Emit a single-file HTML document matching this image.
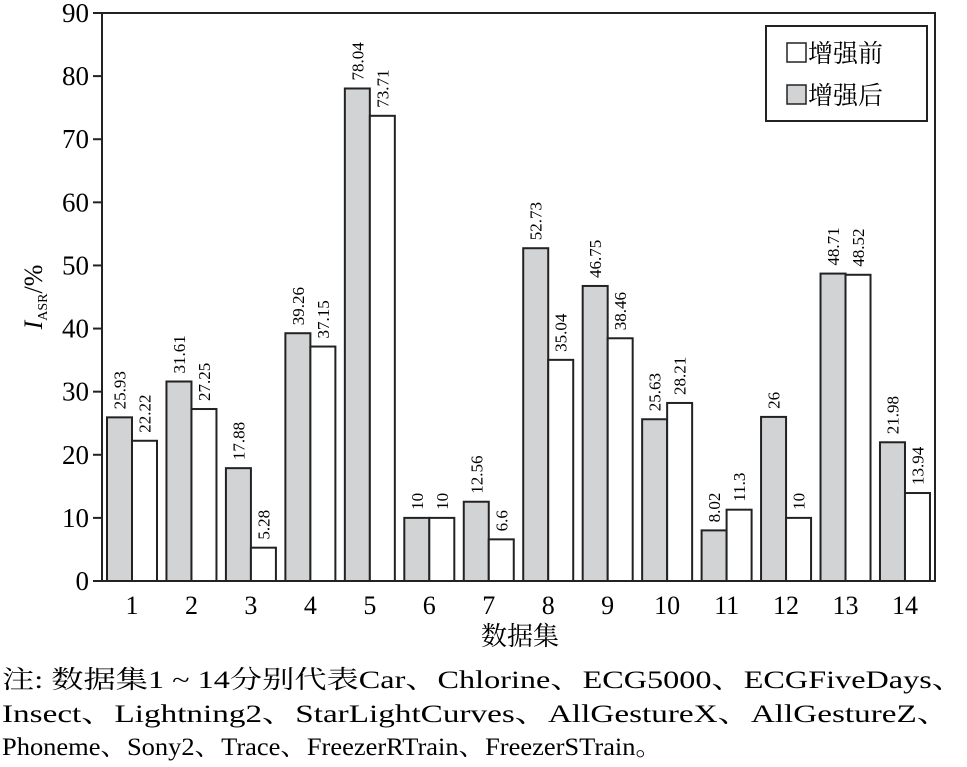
<!DOCTYPE html>
<html><head><meta charset="utf-8"><style>
body{margin:0;background:#fff;}
svg{display:block;font-family:"Liberation Serif","Noto Serif CJK SC",serif;}
</style></head><body>
<svg id="chart" width="967" height="767" viewBox="0 0 967 767" xmlns="http://www.w3.org/2000/svg">
<g id="bars"></g>
<g id="axes"></g>
<g>
<rect x="766" y="26" width="161" height="95" fill="#fff" stroke="#222" stroke-width="2"/>
<rect x="787" y="43" width="19" height="19" fill="#fff" stroke="#222" stroke-width="1.5"/>
<text x="808" y="62" font-size="25" font-family="Noto Serif CJK SC, serif">增强前</text>
<rect x="787" y="85" width="19" height="19" fill="#d1d3d4" stroke="#222" stroke-width="1.5"/>
<text x="808" y="104" font-size="25" font-family="Noto Serif CJK SC, serif">增强后</text>
</g>
<text transform="translate(42,297) rotate(-90)" text-anchor="middle" font-size="26"><tspan font-style="italic">I</tspan><tspan font-size="14" dy="5">ASR</tspan><tspan dy="-5">/%</tspan></text>
<text x="520" y="645" text-anchor="middle" font-size="26">数据集</text>
<text x="2" y="688" font-size="25" textLength="962" lengthAdjust="spacingAndGlyphs">注: 数据集1 ~ 14分别代表Car、Chlorine、ECG5000、ECGFiveDays、</text>
<text x="2" y="722" font-size="25" textLength="948" lengthAdjust="spacingAndGlyphs">Insect、Lightning2、StarLightCurves、AllGestureX、AllGestureZ、</text>
<text x="2" y="755" font-size="25" textLength="660" lengthAdjust="spacingAndGlyphs">Phoneme、Sony2、Trace、FreezerRTrain、FreezerSTrain。</text>
</svg>
<script>
const categories=["1","2","3","4","5","6","7","8","9","10","11","12","13","14"];
const afterValues=[25.93,31.61,17.88,39.26,78.04,10,12.56,52.73,46.75,25.63,8.02,26,48.71,21.98];
const beforeValues=[22.22,27.25,5.28,37.15,73.71,10,6.6,35.04,38.46,28.21,11.3,10,48.52,13.94];
const afterLabels=["25.93","31.61","17.88","39.26","78.04","10","12.56","52.73","46.75","25.63","8.02","26","48.71","21.98"];
const beforeLabels=["22.22","27.25","5.28","37.15","73.71","10","6.6","35.04","38.46","28.21","11.3","10","48.52","13.94"];
const yTicks=[0,10,20,30,40,50,60,70,80,90];
const NS="http://www.w3.org/2000/svg";
const X0=102,X1=935,Y0=581,Y1=13,YMAX=90,BW=25;
function y(v){return Y0-(v/YMAX)*(Y0-Y1);}
function xc(i){return 132+i*59.46;}
function mk(t,a,p){const e=document.createElementNS(NS,t);for(const k in a)e.setAttribute(k,a[k]);p.appendChild(e);return e;}
const bars=document.getElementById('bars'),axes=document.getElementById('axes');
categories.forEach((c,i)=>{
  const cx=xc(i);
  const a=mk('rect',{x:cx-BW,y:y(afterValues[i]),width:BW,height:Y0-y(afterValues[i]),fill:'#d1d3d4',stroke:'#222','stroke-width':2},bars);
  
  
  const b=mk('rect',{x:cx,y:y(beforeValues[i]),width:BW,height:Y0-y(beforeValues[i]),fill:'#fff',stroke:'#222','stroke-width':2},bars);
  
  
  [[afterLabels[i],afterValues[i],cx-BW/2],[beforeLabels[i],beforeValues[i],cx+BW/2]].forEach(([l,v,x],k)=>{
    const t=mk('text',{transform:`translate(${x+6},${y(v)-8}) rotate(-90)`,'font-size':17},bars);
    t.textContent=l;
    
    
  });
  const tl=mk('text',{x:cx,y:614,'text-anchor':'middle','font-size':26},axes);
  tl.textContent=c;
  
  
});
const fr=mk('rect',{x:X0,y:Y1,width:X1-X0,height:Y0-Y1,fill:'none',stroke:'#222','stroke-width':2},axes);


yTicks.forEach(v=>{
  const ln=mk('line',{x1:X0-9,x2:X0,y1:y(v),y2:y(v),stroke:'#222','stroke-width':2},axes);
  
  
  const t=mk('text',{x:X0-13,y:y(v)+9,'text-anchor':'end','font-size':27},axes);
  t.textContent=String(v);
  
  
});
</script>
</body></html>
